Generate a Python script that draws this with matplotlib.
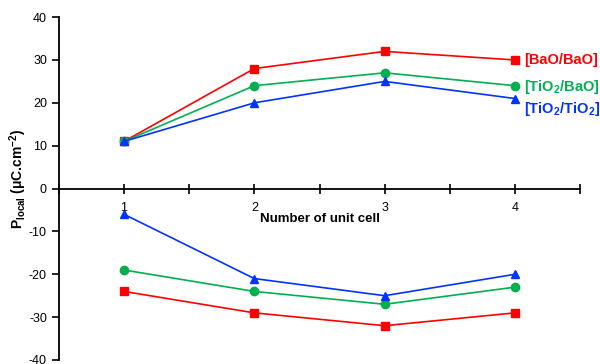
import matplotlib
matplotlib.use("Agg")
import matplotlib.pyplot as plt

plt.rcParams['font.family'] = ['Liberation Sans', 'DejaVu Sans']
plt.rcParams['axes.unicode_minus'] = False
plt.rcParams['mathtext.fontset'] = 'custom'
plt.rcParams['mathtext.rm'] = 'Liberation Sans'
plt.rcParams['mathtext.bf'] = 'Liberation Sans:bold'

cells = [1, 2, 3, 4]
bao_pos = [11, 28, 32, 30]
bao_neg = [-24, -29, -32, -29]
tib_pos = [11, 24, 27, 24]
tib_neg = [-19, -24, -27, -23]
tit_pos = [11, 20, 25, 21]
tit_neg = [-6, -21, -25, -20]
names = ["[BaO/BaO]", "[TiO$_\\mathbf{2}$/BaO]", "[TiO$_\\mathbf{2}$/TiO$_\\mathbf{2}$]"]
colors = ["#FF0000", "#00B050", "#0033FF"]

fig = plt.figure(figsize=(6, 3.64), dpi=100)
ax = fig.add_axes([0.098, 0.011, 0.869, 0.942])

series = [(bao_pos, bao_neg, 's'), (tib_pos, tib_neg, 'o'), (tit_pos, tit_neg, '^')]
for (p, n, m), c in zip(series, colors):
    ax.plot(cells, p, color=c, marker=m, markersize=6, lw=1.2, clip_on=False)
    ax.plot(cells, n, color=c, marker=m, markersize=6, lw=1.2, clip_on=False)

ax.set_xlim(0.5, 4.5)
ax.set_ylim(-40, 40)
ax.spines['top'].set_visible(False)
ax.spines['right'].set_visible(False)
ax.spines['bottom'].set_position(('data', 0))
ax.spines['left'].set_linewidth(1.3)
ax.spines['bottom'].set_linewidth(1.3)
ax.set_xticks([1, 2, 3, 4])
ax.set_xticks([0.5, 1.5, 2.5, 3.5, 4.5], minor=True)
ax.tick_params(axis='x', which='both', direction='inout', length=7, width=1.2, labelsize=9, pad=6)
ax.tick_params(axis='x', which='minor', labelbottom=False)
ax.set_yticks(range(-40, 41, 10))
ax.tick_params(axis='y', direction='out', length=5, width=1.2, labelsize=9)

ax.text(2.5, -7.0, "Number of unit cell", ha='center', va='center', fontsize=9.5, fontweight='bold')
fig.text(0.03, 0.51, "P$_\\mathbf{local}$ (μC.cm$^\\mathbf{-2}$)", rotation=90,
         ha='center', va='center', fontsize=10, fontweight='bold')

label_y = [29.9, 23.8, 18.5]
for name, c, y in zip(names, colors, label_y):
    ax.text(4.07, y, name, color=c, fontsize=10.5, fontweight='bold', va='center', ha='left')

fig.savefig("out.png", dpi=100)
